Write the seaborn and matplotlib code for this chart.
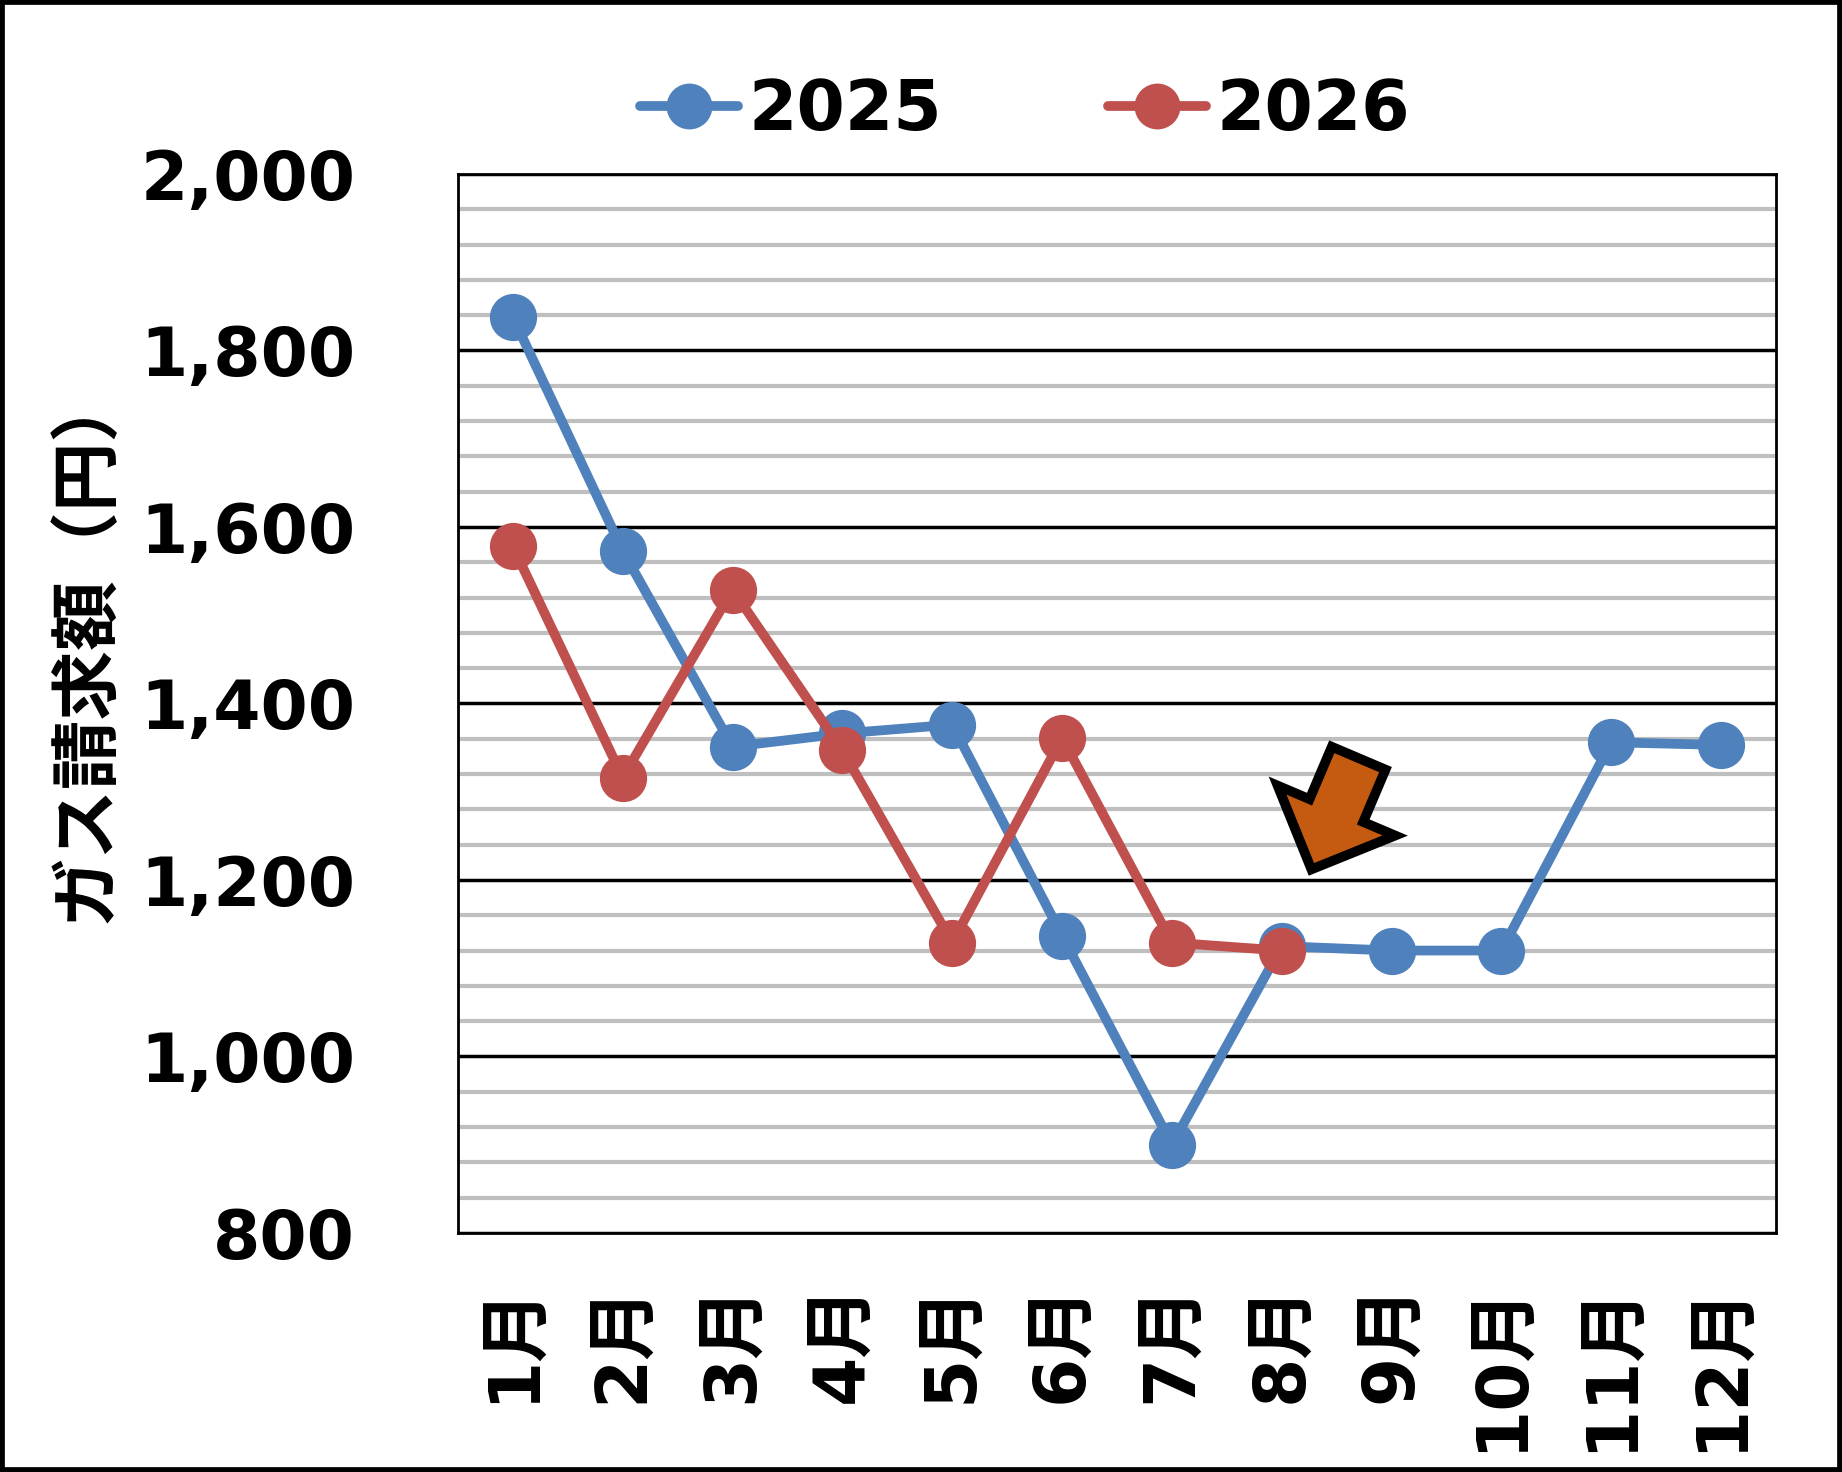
import pandas as pd
import matplotlib.pyplot as plt
import seaborn as sns
from matplotlib.ticker import MultipleLocator, FuncFormatter
from matplotlib.patches import Rectangle

# データ
months = ['1月', '2月', '3月', '4月', '5月', '6月', '7月', '8月', '9月', '10月', '11月', '12月']
month_no = list(range(1, 13))
gas_2025 = [1838, 1573, 1351, 1366, 1376, 1137, 900, 1125, 1120, 1120, 1356, 1353]
gas_2026 = [1578, 1316, 1529, 1347, 1129, 1361, 1129, 1120]

df = pd.concat([
    pd.DataFrame({'month': month_no, 'value': gas_2025, 'year': '2025'}),
    pd.DataFrame({'month': month_no[:len(gas_2026)], 'value': gas_2026, 'year': '2026'}),
])

sns.set_style('white')
plt.rcParams['font.family'] = ['DejaVu Sans', 'Noto Sans CJK JP']
plt.rcParams['font.weight'] = 'bold'
plt.rcParams['text.color'] = 'black'
plt.rcParams['xtick.color'] = 'black'
plt.rcParams['ytick.color'] = 'black'

fig = plt.figure(figsize=(18.42, 14.72), dpi=100)
ax = fig.add_axes([0.2486, 0.1624, 0.7156, 0.7194])

palette = {'2025': '#4F81BD', '2026': '#C0504D'}
sns.lineplot(data=df, x='month', y='value', hue='year', palette=palette,
             marker='o', markersize=34, markeredgewidth=0, linewidth=7,
             ax=ax, legend=True)

# 軸
ax.set_xlim(0.5, 12.5)
ax.set_ylim(800, 2000)
ax.set_xticks(month_no)
ax.set_xticklabels(months, rotation=90, fontsize=51, fontweight='bold', color='black')
ax.yaxis.set_major_locator(MultipleLocator(200))
ax.yaxis.set_minor_locator(MultipleLocator(40))
ax.yaxis.set_major_formatter(FuncFormatter(lambda v, p: f'{v:,.0f}'))
ax.tick_params(axis='y', which='both', length=0, pad=74, labelsize=49, labelcolor='black')
ax.tick_params(axis='x', length=0, pad=36)
for lab in ax.get_yticklabels():
    lab.set_fontweight('bold')
ax.set_xlabel('')
ax.set_ylabel('')

ax.grid(which='minor', axis='y', color='#BFBFBF', linewidth=3)
ax.grid(which='major', axis='y', color='black', linewidth=2.5)
ax.set_axisbelow(True)
for s in ax.spines.values():
    s.set_color('black')
    s.set_linewidth(2)

fig.text(86 / 1842, 1 - 645 / 1472, 'ガス請求額（円）', rotation=90,
         ha='center', va='center', fontsize=50, fontweight='bold',
         color='black', family=['Noto Sans CJK JP'])

# 凡例
handles, labels = ax.get_legend_handles_labels()
for h in handles:
    h.set_markersize(33)
    h.set_linewidth(7)
leg = ax.legend(handles, labels, loc='center', bbox_to_anchor=(0.5565, 0.925),
                bbox_transform=fig.transFigure, ncol=2, frameon=False,
                prop={'size': 50, 'weight': 'bold'}, handlelength=1.4,
                handletextpad=0.15, columnspacing=2.4)
for t in leg.get_texts():
    t.set_color('black')

# 矢印
ax.annotate('', xy=(8.27, 1212), xytext=(8.70, 1338),
            arrowprops=dict(arrowstyle='simple,head_length=0.46,head_width=0.92,tail_width=0.42',
                            mutation_scale=100, fc='#C55A11', ec='black', lw=7,
                            shrinkA=0, shrinkB=0, joinstyle='miter'))

# 外枠
fig.patches.append(Rectangle((0, 0), 1, 1, transform=fig.transFigure,
                             fill=False, ec='black', lw=7))

plt.savefig('out.png', dpi=100)
plt.close()
